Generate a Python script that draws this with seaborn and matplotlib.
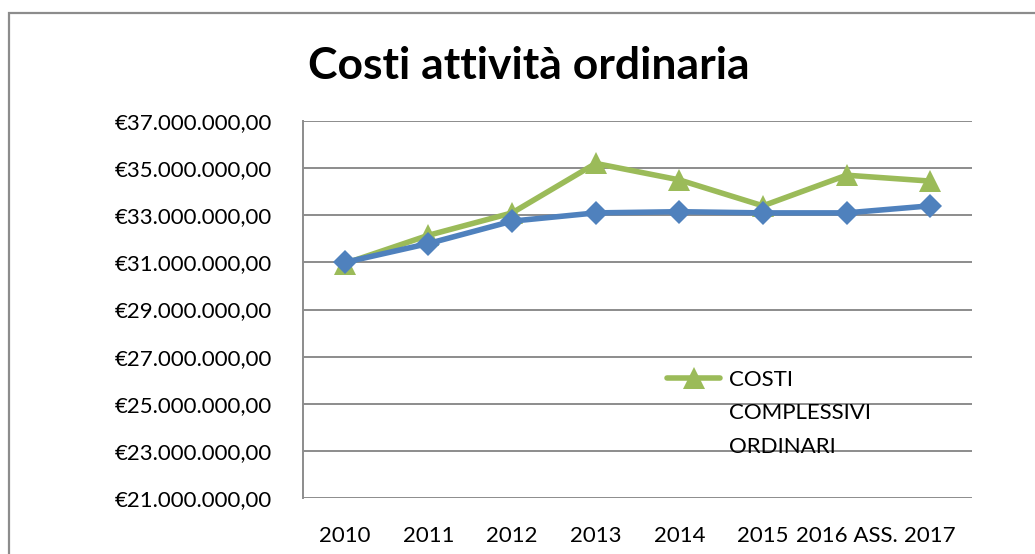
import matplotlib
matplotlib.use("Agg")
import matplotlib.pyplot as plt
import seaborn as sns
import pandas as pd
from matplotlib.patches import Rectangle
from matplotlib.ticker import FuncFormatter

# ---- data ----
categories = ["2010", "2011", "2012", "2013", "2014", "2015", "2016 ASS.", "2017"]
costi_complessivi = [30.95e6, 32.15e6, 33.1e6, 35.2e6, 34.5e6, 33.4e6, 34.7e6, 34.45e6]
costi_ordinari = [31.0e6, 31.8e6, 32.75e6, 33.1e6, 33.15e6, 33.1e6, 33.1e6, 33.4e6]
y_ticks = [21e6, 23e6, 25e6, 27e6, 29e6, 31e6, 33e6, 35e6, 37e6]
green_label = "COSTI\nCOMPLESSIVI\nORDINARI"
title = "Costi attività ordinaria"

sns.set_theme(style="white")
plt.rcParams["font.family"] = ["Lato", "DejaVu Sans"]
plt.rcParams["text.color"] = "black"

W, H = 1035, 554
fig = plt.figure(figsize=(W / 100, H / 100), dpi=100)
ax = fig.add_axes([303 / W, 1 - 498 / H, (972 - 303) / W, (498 - 121) / H])

# outer chart frame (cropped at right and bottom)
fig.patches.append(Rectangle((9 / W, -0.2), 1.2, 1.2 - 13 / H, transform=fig.transFigure,
                             fill=False, edgecolor="#8c8c8c", linewidth=1.6))

df_g = pd.DataFrame({"anno": categories, "valore": costi_complessivi})
df_b = pd.DataFrame({"anno": categories, "valore": costi_ordinari})

sns.lineplot(data=df_g, x="anno", y="valore", sort=False, color="#9BBB59", linewidth=4,
             marker="^", markersize=16, markeredgewidth=0, ax=ax, label=green_label)
sns.lineplot(data=df_b, x="anno", y="valore", sort=False, color="#4F81BD", linewidth=4,
             marker="D", markersize=12.5, markeredgewidth=0, ax=ax, legend=False)

ax.set_xlim(-0.5, len(categories) - 0.5)
ax.set_ylim(y_ticks[0], y_ticks[-1])
ax.set_yticks(y_ticks)


def euro(v, pos):
    s = f"{v:,.2f}"
    s = s.replace(",", "X").replace(".", ",").replace("X", ".")
    return "€" + s


ax.yaxis.set_major_formatter(FuncFormatter(euro))
ax.grid(axis="y", color="#8c8c8c", linewidth=1.4)
ax.grid(axis="x", visible=False)
ax.set_axisbelow(True)
for s in ["top", "right", "bottom"]:
    ax.spines[s].set_visible(False)
ax.spines["left"].set_color("#8c8c8c")
ax.spines["left"].set_linewidth(1.4)
ax.set_xlabel("")
ax.set_ylabel("")
ax.tick_params(axis="y", length=0, pad=22, labelsize=16, labelcolor="black")
ax.tick_params(axis="x", length=0, pad=20, labelsize=16, labelcolor="black")

fig.text(529 / W, 1 - 66 / H, title, ha="center", va="center", fontsize=32,
         fontweight="bold", color="black")

leg = ax.legend(loc="upper left", bbox_to_anchor=(667 / W, 1 - 370 / H), bbox_transform=fig.transFigure,
                frameon=False, fontsize=16, handlelength=2.4, handletextpad=0.4, borderpad=0,
                borderaxespad=0)
for t in leg.get_texts():
    t.set_linespacing(1.84)
    t.set_color("black")
for col in leg._legend_handle_box.get_children():
    for row in col.get_children():
        row.align = "top"

fig.savefig("out.png", dpi=100)
